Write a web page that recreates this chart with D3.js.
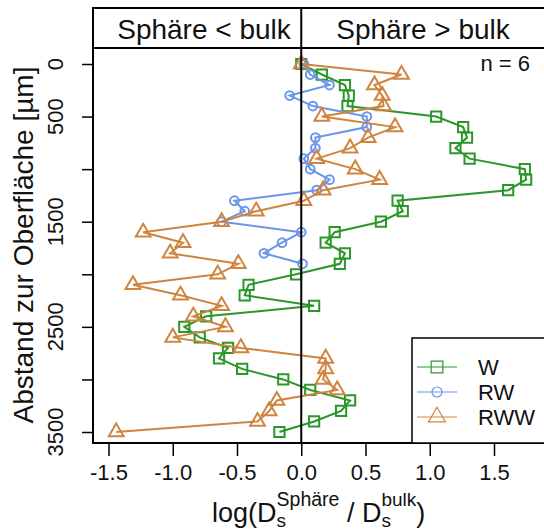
<!DOCTYPE html>
<html>
<head>
<meta charset="utf-8">
<script src="https://cdn.jsdelivr.net/npm/d3@7"></script>
<style>
  body { margin: 0; background: #fff; }
  text { font-family: "Liberation Sans", Arial, sans-serif; fill: #111; }
</style>
</head>
<body>
<div id="chart"></div>
<script>
// depth below surface (µm), one value every 100 µm
const depths = [0, 100, 200, 300, 400, 500, 600, 700, 800, 900, 1000, 1100,
  1200, 1300, 1400, 1500, 1600, 1700, 1800, 1900, 2000, 2100, 2200, 2300,
  2400, 2500, 2600, 2700, 2800, 2900, 3000, 3100, 3200, 3300, 3400, 3500];

// log(D_sphere / D_bulk)
const wValues = [0.00, 0.16, 0.34, 0.37, 0.36, 1.05, 1.26, 1.29, 1.20, 1.31,
  1.74, 1.75, 1.61, 0.75, 0.79, 0.62, 0.26, 0.19, 0.34, 0.30,
  -0.04, -0.41, -0.44, 0.10, -0.74, -0.91, -0.79, -0.57, -0.64, -0.46,
  -0.14, 0.07, 0.38, 0.31, 0.10, -0.17];
const rwValues = [0.02, 0.07, 0.22, -0.09, 0.09, 0.51, 0.51, 0.11, 0.11, 0.02,
  0.07, 0.22, 0.12, -0.52, -0.44, -0.62, 0.00, -0.15, -0.29, 0.01];
const rwwValues = [0.00, 0.78, 0.57, 0.63, 0.64, 0.16, 0.73, 0.52, 0.38, 0.12,
  0.42, 0.61, 0.17, 0.02, -0.35, -0.62, -1.23, -0.92, -1.02, -0.49,
  -0.65, -1.31, -0.94, -0.62, -0.84, -0.59, -1.00, -0.47, 0.19, 0.19,
  0.17, 0.28, -0.19, -0.25, -0.34, -1.44];

const seriesNames = ['W', 'RW', 'RWW'];
const xTicks = [-1.5, -1.0, -0.5, 0.0, 0.5, 1.0, 1.5];
const yTicks = [0, 500, 1000, 1500, 2000, 2500, 3000, 3500];
const yTickLabels = [0, 500, 1500, 2500, 3500];

const width = 544;
const height = 530;
const box = { left: 93, right: 547, top: 8, header: 48, bottom: 443 };

const colors = { W: '#2b972b', RW: '#6a96ea', RWW: '#cf853f' };
const symbols = { W: d3.symbolSquare, RW: d3.symbolCircle, RWW: d3.symbolTriangle };
const symSize = { W: 105, RW: 60, RWW: 95 };

const x = d3.scaleLinear().domain([-1.5, 1.5]).range([108.5, 494]);
const y = d3.scaleLinear().domain([0, 3500]).range([64, 432]);

const svg = d3.select('#chart').append('svg')
  .attr('width', width)
  .attr('height', height);

const series = [
  { name: 'W', values: wValues },
  { name: 'RW', values: rwValues },
  { name: 'RWW', values: rwwValues }
].map(s => ({ name: s.name, points: s.values.map((v, i) => ({ x: v, d: depths[i] })) }));

const line = d3.line().x(p => x(p.x)).y(p => y(p.d));

series.forEach(s => {
  const g = svg.append('g');
  g.append('path')
    .datum(s.points)
    .attr('d', line)
    .attr('fill', 'none')
    .attr('stroke', colors[s.name])
    .attr('stroke-width', 2);
  g.selectAll('path.mark')
    .data(s.points)
    .enter().append('path')
    .attr('class', 'mark')
    .attr('transform', p => `translate(${x(p.x)},${y(p.d)})`)
    .attr('d', d3.symbol().type(symbols[s.name]).size(symSize[s.name]))
    .attr('fill', 'none')
    .attr('stroke', colors[s.name])
    .attr('stroke-width', 2);
});

// frame, header strip and zero line
svg.append('rect')
  .attr('x', box.left).attr('y', box.top)
  .attr('width', box.right - box.left).attr('height', box.bottom - box.top)
  .attr('fill', 'none').attr('stroke', '#000').attr('stroke-width', 2);
svg.append('line')
  .attr('x1', box.left).attr('x2', box.right)
  .attr('y1', box.header).attr('y2', box.header)
  .attr('stroke', '#000').attr('stroke-width', 2);
svg.append('line')
  .attr('x1', x(0)).attr('x2', x(0))
  .attr('y1', box.top).attr('y2', box.bottom)
  .attr('stroke', '#000').attr('stroke-width', 2);

svg.append('text').attr('x', 204).attr('y', 39)
  .attr('text-anchor', 'middle').style('font-size', '28px').text('Sphäre < bulk');
svg.append('text').attr('x', 423).attr('y', 39)
  .attr('text-anchor', 'middle').style('font-size', '28px').text('Sphäre > bulk');

svg.append('text').attr('x', 530).attr('y', 71)
  .attr('text-anchor', 'end').style('font-size', '22px').text('n = 6');

// x axis
const xAxis = svg.append('g')
  .attr('transform', `translate(0,${box.bottom})`)
  .call(d3.axisBottom(x).tickValues(xTicks).tickSize(13).tickFormat(d => d.toFixed(1)));
xAxis.select('.domain').remove();
xAxis.selectAll('line').attr('stroke', '#000').attr('stroke-width', 1.5);
xAxis.selectAll('text')
  .attr('y', 30).attr('dy', '0.32em')
  .style('font-size', '22px')
  .style('font-family', '"Liberation Sans", Arial, sans-serif');

// y axis
const yAxis = svg.append('g')
  .attr('transform', `translate(${box.left},0)`)
  .call(d3.axisLeft(y).tickValues(yTicks).tickSize(11).tickFormat(''));
yAxis.select('.domain').remove();
yAxis.selectAll('line').attr('stroke', '#000').attr('stroke-width', 1.5);

svg.selectAll('text.ylab')
  .data(yTickLabels)
  .enter().append('text')
  .attr('class', 'ylab')
  .attr('transform', d => `translate(63,${y(d)}) rotate(-90)`)
  .attr('text-anchor', 'middle')
  .style('font-size', '22px')
  .text(d => d);

// axis titles
svg.append('text')
  .attr('transform', 'translate(33,245) rotate(-90)')
  .attr('text-anchor', 'middle')
  .style('font-size', '28px')
  .text('Abstand zur Oberfläche [µm]');

const xl = svg.append('text').attr('x', 212).attr('y', 522).style('font-size', '27px');
xl.append('tspan').text('log(D');
xl.append('tspan').attr('dy', 5).style('font-size', '19px').text('s');
xl.append('tspan').attr('dx', -9.5).attr('dy', -21).style('font-size', '19.5px').text('Sphäre');
xl.append('tspan').attr('dy', 16).text(' / D');
xl.append('tspan').attr('dy', 5).style('font-size', '19px').text('s');
xl.append('tspan').attr('dx', -9.5).attr('dy', -21).style('font-size', '19px').text('bulk');
xl.append('tspan').attr('dy', 16).text(')');

// legend
const legend = svg.append('g');
legend.append('rect')
  .attr('x', 412).attr('y', 338)
  .attr('width', 200).attr('height', box.bottom - 338)
  .attr('fill', '#fff').attr('stroke', '#000').attr('stroke-width', 1.5);
seriesNames.forEach((name, i) => {
  const ly = 367 + i * 25;
  legend.append('line')
    .attr('x1', 417).attr('x2', 457).attr('y1', ly).attr('y2', ly)
    .attr('stroke', colors[name]).attr('stroke-width', 1.2);
  legend.append('path')
    .attr('transform', `translate(437,${ly})`)
    .attr('d', d3.symbol().type(symbols[name]).size(symSize[name] * 1.3))
    .attr('fill', 'none').attr('stroke', colors[name]).attr('stroke-width', 1.2);
  legend.append('text')
    .attr('x', 478).attr('y', ly + 8)
    .style('font-size', '22px')
    .text(name);
});
</script>
</body>
</html>
